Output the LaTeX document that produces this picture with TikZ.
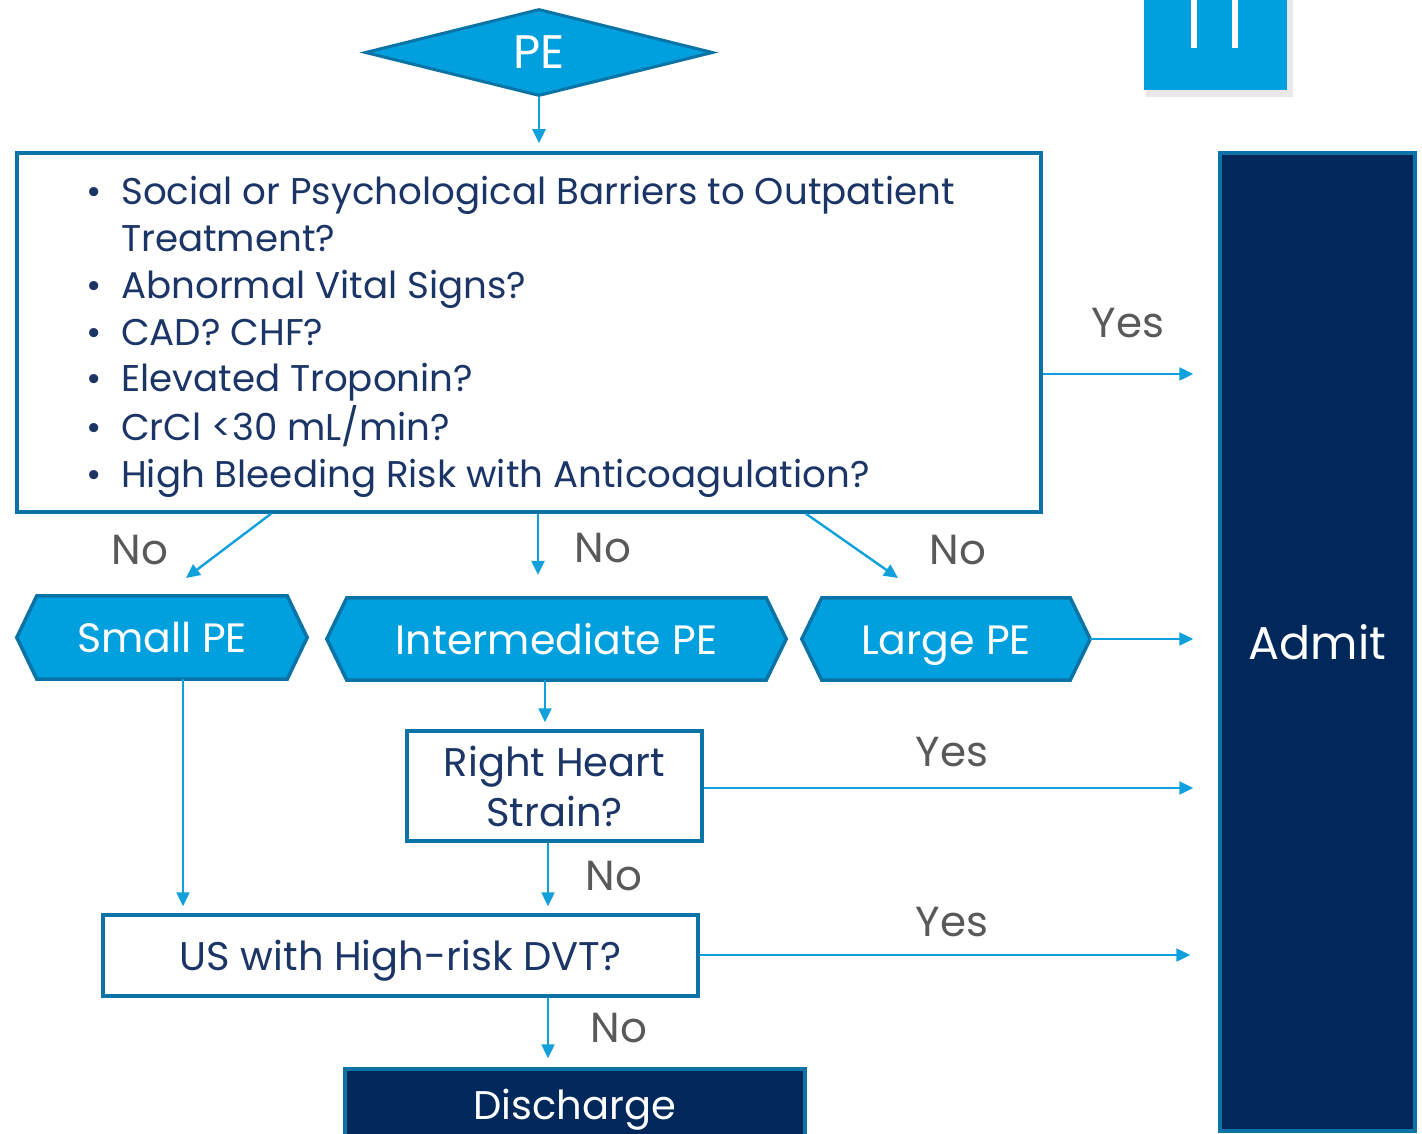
\documentclass[tikz,border=0pt]{standalone}
\usepackage{fontspec}
\setmainfont{Poppins}
\usetikzlibrary{arrows.meta,shapes.geometric,backgrounds}
\definecolor{cyanf}{HTML}{00A0DE}
\definecolor{bord}{HTML}{0B73A6}
\definecolor{navy}{HTML}{00285A}
\definecolor{txtnavy}{HTML}{1B3567}
\definecolor{graytxt}{HTML}{595959}
\definecolor{arr}{HTML}{10A0DC}
\begin{document}
\begin{tikzpicture}[x=1pt,y=-1pt,
  conn/.style={draw=arr,line width=2.4pt,-{Triangle[length=14pt,width=13pt]}},
  lbl/.style={text=graytxt,font=\fontsize{42}{48}\selectfont,inner sep=0},
  whitebox/.style={draw=bord,fill=white,line width=3.5pt,inner sep=0,text=txtnavy,font=\fontsize{40}{50}\selectfont,align=center},
  navybox/.style={draw=bord,fill=navy,line width=3.5pt,inner sep=0,text=white,font=\fontsize{40}{50}\selectfont},
  hexnode/.style={inner sep=0,text=white,font=\fontsize{41}{48}\selectfont,text height=30pt,text depth=0pt},
  hexshape/.style={fill=cyanf,draw=bord,line width=3.5pt,line join=miter}
]
\useasboundingbox (0,0) rectangle (1422,1134);

% top-right decorative box
\fill[black!18] (1148,-5) rectangle (1291,95);
\fill[black!9] (1146,-5) rectangle (1293,97);
\fill[cyanf] (1144,-5) rectangle (1287,90);
\fill[white] (1191,-5) rectangle (1197,48);
\fill[white] (1232,-5) rectangle (1238,48);

% PE diamond
\node[diamond,fill=cyanf,draw=bord,line width=3pt,minimum width=348pt,minimum height=87pt,inner sep=0,
      text=white,font=\fontsize{47}{52}\selectfont,text height=33pt,text depth=0pt] (pe) at (539,52.5) {PE};

% main question box
\node[whitebox,minimum width=1024pt,minimum height=359pt] (box) at (529,332.5) {};
\node[anchor=base west,inner sep=0,text=txtnavy,font=\fontsize{37.2}{46.7}\selectfont] (list) at (86,205)
 {\begin{tabular}[t]{@{}l@{}l@{}}
  \makebox[35pt][l]{\textbullet} & Social or Psychological Barriers to Outpatient\\
  & Treatment?\\
  \makebox[35pt][l]{\textbullet} & Abnormal Vital Signs?\\
  \makebox[35pt][l]{\textbullet} & CAD? CHF?\\
  \makebox[35pt][l]{\textbullet} & Elevated Troponin?\\
  \makebox[35pt][l]{\textbullet} & CrCl <30 mL/min?\\
  \makebox[35pt][l]{\textbullet} & High Bleeding Risk with Anticoagulation?
  \end{tabular}};

% Admit
\node[navybox,minimum width=195pt,minimum height=978pt,font=\fontsize{46}{52}\selectfont] (admit) at (1317.5,642) {Admit};

% hexagons
\node[hexnode,minimum width=290pt,minimum height=83pt] (small) at (162,637.5) {Small PE};
\node[hexnode,minimum width=459pt,minimum height=82pt] (inter) at (556.5,639) {Intermediate PE};
\node[hexnode,minimum width=288pt,minimum height=82pt] (large) at (946,639) {Large PE};
\begin{scope}[on background layer]
\foreach \h in {small,inter,large}{
  \draw[hexshape] ([xshift=20pt]\h.north west) -- ([xshift=-20pt]\h.north east) -- (\h.east)
    -- ([xshift=-20pt]\h.south east) -- ([xshift=20pt]\h.south west) -- (\h.west) -- cycle;
}
\end{scope}

% right heart strain
\node[whitebox,minimum width=295pt,minimum height=110pt] (rhs) at (554.5,786) {Right Heart\\Strain?};
% US
\node[whitebox,minimum width=595pt,minimum height=81pt,text height=30pt,text depth=0pt] (us) at (400.5,955.5) {US with High-risk DVT?};
% Discharge
\node[navybox,minimum width=460pt,minimum height=70pt,text height=30pt,text depth=0pt] (dis) at (575,1104) {Discharge};

% connectors
\draw[conn,shorten >=8pt] (pe.south) -- (pe.south |- box.north);
\draw[conn,shorten >=25pt] (box.east |- 0,374) -- (admit.west |- 0,374);
\coordinate (e2) at (186,578);
\coordinate (e4) at (898,578);
\draw[conn] (box.south -| 271,0) -- (e2);
\draw[conn,shorten >=23pt] (box.south -| 538,0) -- (inter.north -| 538,0);
\draw[conn] (box.south -| 806,0) -- (e4);
\draw[conn,shorten >=25pt] (large.east) -- (large.east -| admit.west);
\draw[conn,shorten >=7pt] (small.south -| 183,0) -- (us.north -| 183,0);
\draw[conn,shorten >=7pt] (inter.south -| 545,0) -- (rhs.north -| 545,0);
\draw[conn,shorten >=25pt] (rhs.east |- 0,788) -- (admit.west |- 0,788);
\draw[conn,shorten >=7pt] (rhs.south -| 548,0) -- (us.north -| 548,0);
\draw[conn,shorten >=28pt] (us.east |- 0,955) -- (admit.west |- 0,955);
\draw[conn,shorten >=9pt] (us.south -| 548,0) -- (dis.north -| 548,0);

% labels
\node[lbl] (l1) at (1128,323) {Yes};
\node[lbl] (l2) at (140,550) {No};
\node[lbl] (l3) at (603,548) {No};
\node[lbl] (l4) at (958,550) {No};
\node[lbl] (l5) at (952,752) {Yes};
\node[lbl] (l6) at (614,876) {No};
\node[lbl] (l7) at (952,922) {Yes};
\node[lbl] (l8) at (619,1028) {No};
\end{tikzpicture}
\end{document}
